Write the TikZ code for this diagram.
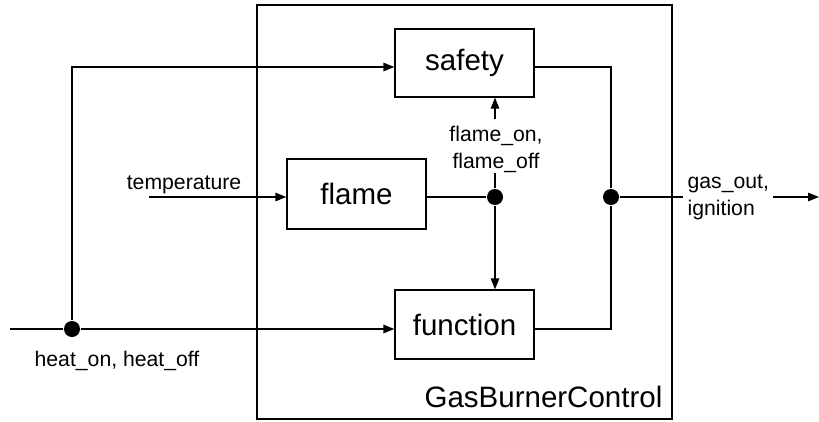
\documentclass[tikz,border=0pt]{standalone}
\usepackage{fontspec}
\setmainfont{Liberation Sans}
\usetikzlibrary{arrows.meta}
\begin{document}
\begin{tikzpicture}[x=1pt,y=-1pt,
  line width=1.3pt,
  blk/.style={draw, rectangle, minimum width=139pt, inner sep=0pt, font=\fontsize{29.5}{35}\selectfont},
  lbl/.style={inner sep=0pt, font=\fontsize{21.2}{25}\selectfont},
  dot/.style={circle, fill=black, draw=none, minimum size=16pt, inner sep=0pt},
  arr/.style={-{Triangle[length=11pt,width=8.5pt]}}]
\useasboundingbox (0,0) rectangle (819,421);
% outer component
\node[draw, rectangle, minimum width=415pt, minimum height=414pt, inner sep=0pt] (gbc) at (464.5,212) {};
\node[lbl, font=\fontsize{29.5}{35}\selectfont, anchor=base east] (gbclbl) at (663,407) {GasBurnerControl};
% blocks
\node[blk, minimum height=68pt] (safety) at (464.5,63) {safety};
\node[blk, minimum height=70pt] (flame) at (356.5,194) {flame};
\node[blk, minimum height=69pt] (function) at (464.5,324.5) {function};
% junctions
\node[dot] (hdot) at (72,329) {};
\node[dot] (fdot) at (495,197) {};
\node[dot] (odot) at (611,197) {};
% free ends
\coordinate (hstart) at (10,329);
\coordinate (tstart) at (149,197);
\coordinate (fa) at (495,173);
\coordinate (fb) at (495,119);
\coordinate (ga) at (683,197);
\coordinate (gb) at (773,197);
\coordinate (gend) at (819,197);
% labels
\node[lbl, anchor=base] (heatlbl) at (117,366) {heat\_on, heat\_off};
\node[lbl, anchor=base] (templbl) at (184,189) {temperature};
\node[lbl, align=center, anchor=base] (flbl) at (496,168) {flame\_on,\\[2pt]flame\_off};
\node[lbl, align=left, anchor=base west] (glbl) at (687,215) {gas\_out,\\[2pt]ignition};
% connectors
\draw (hstart) -- (hdot);
\draw[arr] (hdot) -- ([yshift=-4.5pt]function.west);
\draw[arr] (hdot) |- ([yshift=-4pt]safety.west);
\draw[arr] (tstart) -- ([yshift=-3pt]flame.west);
\draw ([yshift=-3pt]flame.east) -- (fdot);
\draw[arr] (fdot) -- (fdot |- function.north);
\draw (fdot) -- (fa);
\draw[arr] (fb) -- (fb |- safety.south);
\draw ([yshift=-4pt]safety.east) -| (odot);
\draw ([yshift=-4.5pt]function.east) -| (odot);
\draw (odot) -- (ga);
\draw[arr] (gb) -- (gend);
\end{tikzpicture}
\end{document}
